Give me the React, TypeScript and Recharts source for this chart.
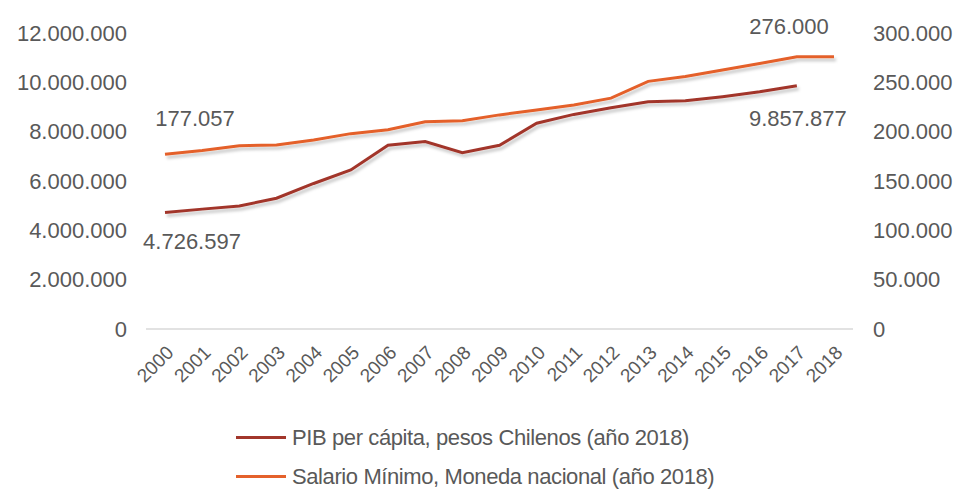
import React from "react";
import {
  LabelList,
  Legend,
  Line,
  LineChart,
  XAxis,
  YAxis,
} from "recharts";

// Años (eje X)
const YEARS = [
  "2000", "2001", "2002", "2003", "2004", "2005", "2006", "2007", "2008", "2009",
  "2010", "2011", "2012", "2013", "2014", "2015", "2016", "2017", "2018",
];

// PIB per cápita, pesos chilenos (año 2018) — sin dato para 2018
const PIB = [
  4726597, 4860000, 4990000, 5300000, 5900000, 6450000, 7450000, 7600000,
  7150000, 7450000, 8340000, 8700000, 8970000, 9210000, 9250000, 9420000,
  9620000, 9857877, null,
];

// Salario mínimo, moneda nacional (año 2018)
const SALARIO = [
  177057, 181000, 185800, 186500, 191500, 198000, 202000, 210000, 211000,
  217000, 222000, 227000, 234000, 251000, 256000, 262500, 269000, 276000,
  276000,
];

const LEFT_TICKS = [0, 2000000, 4000000, 6000000, 8000000, 10000000, 12000000];
const RIGHT_TICKS = [0, 50000, 100000, 150000, 200000, 250000, 300000];

const PIB_NAME = "PIB per cápita, pesos Chilenos (año 2018)";
const SALARIO_NAME = "Salario Mínimo, Moneda nacional (año 2018)";

const DATA = YEARS.map((year, i) => ({
  year,
  pib: PIB[i],
  salario: SALARIO[i],
}));

const FONT = '"Liberation Sans", Arial, sans-serif';
const GRAY = "#595959";
const PIB_COLOR = "#a2362b";
const SAL_COLOR = "#e4612b";

const fmt = (v: number) =>
  String(Math.round(v)).replace(/\B(?=(\d{3})+(?!\d))/g, ".");

const XTick = ({ x, y, payload }: any) => (
  <g transform={`translate(${x + 5},${y + 12}) rotate(-45)`}>
    <text
      x={0}
      y={0}
      dy="0.35em"
      textAnchor="end"
      fill={GRAY}
      fontSize={19}
      fontFamily={FONT}
    >
      {payload.value}
    </text>
  </g>
);

// etiquetas de datos: solo primer y último valor, desplazadas como en el original
const pointLabel =
  (offsets: Record<number, [number, number]>) => (props: any) => {
    const { x, y, value, index } = props;
    const off = offsets[index];
    if (!off || value == null) return null;
    return (
      <text
        x={x + off[0]}
        y={y + off[1]}
        dy="0.35em"
        textAnchor="middle"
        fill={GRAY}
        fontSize={22}
        fontFamily={FONT}
      >
        {fmt(value)}
      </text>
    );
  };

const renderLegend = (props: any) => {
  const { payload } = props;
  return (
    <div style={{ paddingLeft: 236, fontFamily: FONT }}>
      {payload.map((entry: any) => (
        <div
          key={entry.value}
          style={{ height: 39, display: "flex", alignItems: "center" }}
        >
          <span
            style={{
              display: "inline-block",
              width: 50,
              height: 3,
              background: entry.color,
              marginRight: 6,
            }}
          />
          <span style={{ fontSize: 22, color: GRAY, letterSpacing: -0.4 }}>
            {entry.value}
          </span>
        </div>
      ))}
    </div>
  );
};

export default function App() {
  return (
    <div
      style={{
        position: "absolute",
        left: 0,
        top: 0,
        width: 961,
        height: 490,
        background: "#fff",
      }}
    >
      <LineChart
        width={961}
        height={490}
        data={DATA}
        margin={{ top: 33, right: 0, bottom: 91, left: 0 }}
      >
        <defs>
          <filter id="lineShadow" x="-5%" y="-20%" width="110%" height="150%">
            <feDropShadow
              dx="2"
              dy="3"
              stdDeviation="1.5"
              floodColor="#000"
              floodOpacity="0.22"
            />
          </filter>
        </defs>
        <XAxis
          dataKey="year"
          height={70}
          interval={0}
          padding={{ left: 19, right: 19 }}
          tick={<XTick />}
          tickLine={false}
          axisLine={{ stroke: "#d9d9d9", strokeWidth: 1.5 }}
        />
        <YAxis
          yAxisId="left"
          width={146}
          domain={[0, 12000000]}
          ticks={LEFT_TICKS}
          tickFormatter={fmt}
          axisLine={false}
          tickLine={false}
          tickMargin={13}
          tick={{ fill: GRAY, fontSize: 22, fontFamily: FONT }}
        />
        <YAxis
          yAxisId="right"
          orientation="right"
          width={108}
          domain={[0, 300000]}
          ticks={RIGHT_TICKS}
          tickFormatter={fmt}
          axisLine={false}
          tickLine={false}
          tickMargin={14}
          tick={{ fill: GRAY, fontSize: 22, fontFamily: FONT, textAnchor: "start" }}
        />
        <Legend
          layout="vertical"
          verticalAlign="middle"
          align="center"
          wrapperStyle={{ position: "absolute", left: 0, top: 418, width: 961 }}
          content={renderLegend}
        />
        <Line
          yAxisId="left"
          type="linear"
          dataKey="pib"
          name={PIB_NAME}
          stroke={PIB_COLOR}
          strokeWidth={3}
          dot={false}
          activeDot={false}
          filter="url(#lineShadow)"
          isAnimationActive={false}
        >
          <LabelList
            dataKey="pib"
            content={pointLabel({ 0: [27, 29], 17: [1, 32] })}
          />
        </Line>
        <Line
          yAxisId="right"
          type="linear"
          dataKey="salario"
          name={SALARIO_NAME}
          stroke={SAL_COLOR}
          strokeWidth={3}
          dot={false}
          activeDot={false}
          filter="url(#lineShadow)"
          isAnimationActive={false}
        >
          <LabelList
            dataKey="salario"
            content={pointLabel({ 0: [30, -36], 18: [-45, -30] })}
          />
        </Line>
      </LineChart>
    </div>
  );
}
